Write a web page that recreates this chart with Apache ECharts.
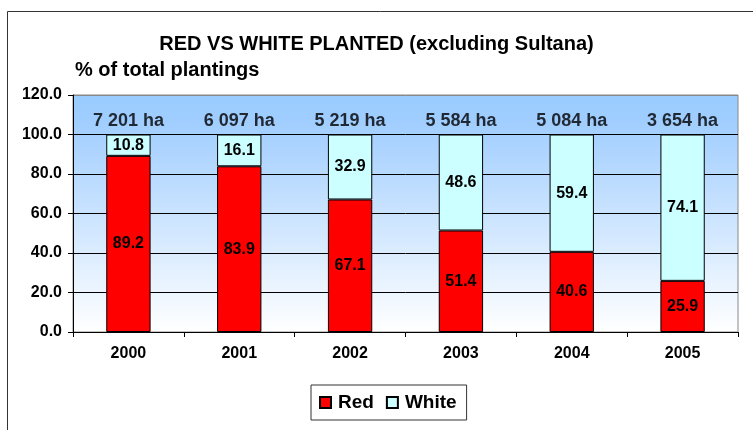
<!DOCTYPE html>
<html><head><meta charset="utf-8">
<script src="https://cdn.jsdelivr.net/npm/echarts@6/dist/echarts.min.js"></script>
<style>html,body{margin:0;padding:0;background:#fff}#c{width:753px;height:430px}</style>
</head><body><div id="c"></div>
<script>
var years = ["2000","2001","2002","2003","2004","2005"];
var redVals = [89.2, 83.9, 67.1, 51.4, 40.6, 25.9];
var whiteVals = [10.8, 16.1, 32.9, 48.6, 59.4, 74.1];
var hectares = ["7 201 ha","6 097 ha","5 219 ha","5 584 ha","5 084 ha","3 654 ha"];
var haLabelY = [107,107,107,107,107,107];
var F = 'Liberation Sans, Arial, sans-serif';
var chart = echarts.init(document.getElementById('c'), null, {renderer:'canvas'});
chart.setOption({
  animation:false,
  textStyle:{fontFamily:F},
  graphic:[{type:'rect', shape:{x:7.5,y:11.5,width:800,height:500}, style:{fill:'none', stroke:'#333', lineWidth:1}, z:-1}],
  title:[
    {text:'RED VS WHITE PLANTED (excluding Sultana)', left:'center', top:29, textStyle:{fontFamily:F, fontSize:20, fontWeight:'bold', color:'#000'}},
    {text:'% of total plantings', left:70, top:55, textStyle:{fontFamily:F, fontSize:20, fontWeight:'bold', color:'#000'}}
  ],
  grid:{left:73, right:15, top:95, bottom:98, show:true, borderColor:'#888', borderWidth:1,
    backgroundColor:new echarts.graphic.LinearGradient(0,0,0,1,[{offset:0,color:'#99CCFF'},{offset:0.1,color:'#9FCDFF'},{offset:1,color:'#FFFFFF'}])},
  legend:{bottom:10, left:311, data:['Red','White'], itemWidth:11, itemHeight:11, itemGap:12,
    borderColor:'#333', borderWidth:1, padding:[8,10,8,8],
    textStyle:{fontFamily:F, fontSize:19, fontWeight:'bold', color:'#000', padding:[0,0,0,2]}, icon:'rect'},
  xAxis:{type:'category', data:years,
    axisLine:{lineStyle:{color:'#000'}}, axisTick:{show:true, length:5, lineStyle:{color:'#000'}},
    axisLabel:{fontFamily:F, fontSize:16, fontWeight:'bold', color:'#000', margin:14}},
  yAxis:{type:'value', min:0, max:120, interval:20,
    axisLine:{show:true, lineStyle:{color:'#000'}}, axisTick:{show:true, length:5, lineStyle:{color:'#000'}},
    splitLine:{show:true, lineStyle:{color:['#000','#000','#000','#000','#000','#000','#888'], width:1}},
    axisLabel:{fontFamily:F, fontSize:16, fontWeight:'bold', color:'#000', margin:11, formatter:function(v){return v.toFixed(1);}}},
  series:[
    {name:'Red', type:'bar', stack:'s', data:redVals, barWidth:'40%',
      itemStyle:{color:'#FF0000', borderColor:'#000', borderWidth:1},
      label:{show:true, position:'inside', fontFamily:F, fontSize:16, fontWeight:'bold', color:'#000', formatter:function(p){return p.value.toFixed(1);}}},
    {name:'White', type:'bar', stack:'s', data:whiteVals, barWidth:'40%',
      itemStyle:{color:'#CCFFFF', borderColor:'#000', borderWidth:1},
      label:{show:true, position:'inside', fontFamily:F, fontSize:16, fontWeight:'bold', color:'#000', formatter:function(p){return p.value.toFixed(1);}}},
    {name:'ha', type:'scatter', data:haLabelY, symbolSize:0, silent:true,
      label:{show:true, position:'inside', fontFamily:F, fontSize:18, fontWeight:'bold', color:'#000', formatter:function(p){return hectares[p.dataIndex];}}}
  ]
});
</script></body></html>
